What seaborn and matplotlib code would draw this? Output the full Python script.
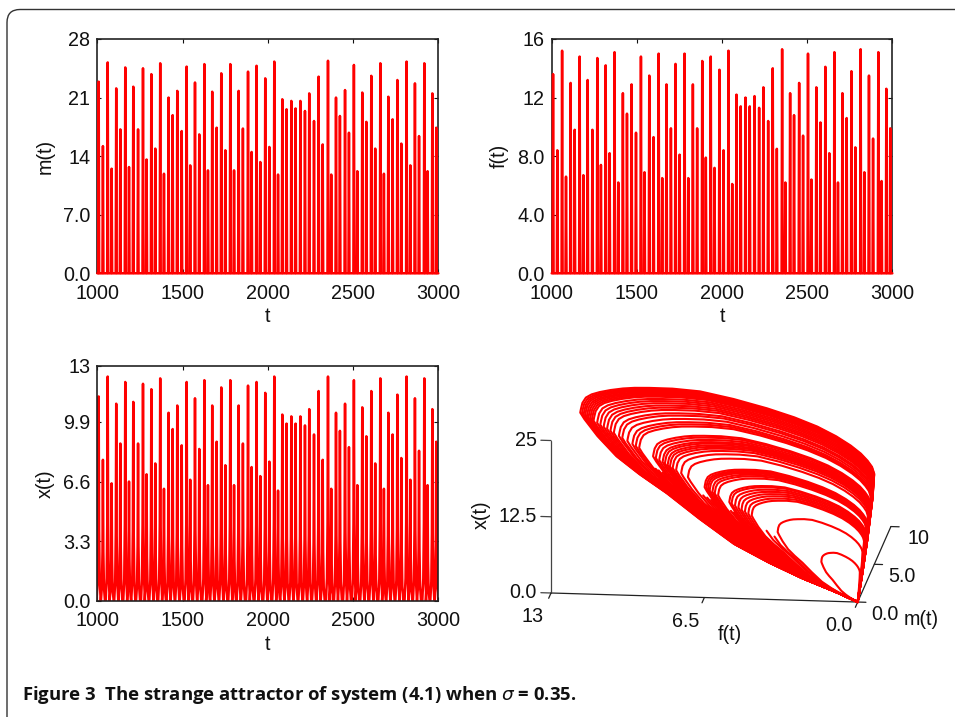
import numpy as np
import pandas as pd
import matplotlib
matplotlib.use('Agg')
import matplotlib.pyplot as plt
import seaborn as sns
from matplotlib.patches import FancyBboxPatch
from matplotlib.transforms import IdentityTransform

# peak times of the spikes, same for all three series
peak_t = [1008, 1033, 1061, 1084, 1111, 1135, 1164, 1186, 1211, 1239, 1268, 1289, 1317, 1340, 1369, 1391,
          1418, 1442, 1469, 1495, 1524, 1545, 1573, 1598, 1628, 1649, 1674, 1700, 1727, 1751, 1780, 1802,
          1829, 1854, 1884, 1905, 1934, 1956, 1985, 2009, 2038, 2060, 2085, 2110, 2138, 2163, 2191, 2218,
          2243, 2271, 2298, 2322, 2353, 2372, 2400, 2423, 2453, 2476, 2505, 2525, 2554, 2578, 2607, 2630,
          2660, 2681, 2707, 2732, 2760, 2783, 2814, 2836, 2863, 2887, 2918, 2937, 2965, 2988]
peak_m = [22.9, 15.2, 25.2, 12.5, 22.1, 17.2, 24.6, 12.7, 22.3, 17.2, 24.5, 13.6, 23.8, 14.9, 25.1, 11.9,
          21.0, 18.9, 21.8, 17.0, 24.7, 12.9, 22.8, 16.6, 25.0, 12.3, 21.7, 17.4, 23.9, 14.7, 25.0, 12.3,
          21.8, 17.3, 24.1, 14.5, 24.8, 13.3, 23.3, 15.1, 25.3, 11.8, 20.8, 19.6, 20.6, 19.7, 20.6, 19.4,
          21.5, 18.2, 23.5, 15.4, 25.4, 11.8, 21.0, 18.8, 21.9, 16.8, 24.9, 12.2, 21.6, 18.1, 23.6, 14.9,
          25.1, 11.9, 21.1, 18.4, 23.1, 15.5, 25.3, 12.9, 22.7, 16.4, 25.1, 12.2, 21.5, 17.4]
peak_f = [13.6, 8.4, 15.2, 6.6, 13.0, 9.8, 14.8, 6.7, 13.2, 9.8, 14.7, 7.4, 14.2, 8.2, 15.1, 6.2,
          12.3, 10.9, 12.9, 9.6, 14.8, 6.9, 13.5, 9.3, 15.0, 6.5, 12.9, 9.9, 14.3, 8.1, 15.0, 6.5,
          12.9, 9.9, 14.5, 7.9, 14.8, 7.2, 13.9, 8.4, 15.2, 6.1, 12.2, 11.4, 12.0, 11.4, 12.1, 11.3,
          12.7, 10.4, 14.0, 8.5, 15.3, 6.2, 12.3, 10.8, 13.0, 9.4, 15.0, 6.4, 12.7, 10.3, 14.1, 8.2,
          15.1, 6.2, 12.3, 10.6, 13.8, 8.6, 15.3, 6.9, 13.5, 9.2, 15.1, 6.3, 12.6, 9.9]
peak_x = [11.3, 7.8, 12.4, 6.5, 10.9, 8.7, 12.1, 6.6, 11.0, 8.7, 12.0, 7.0, 11.7, 7.6, 12.3, 6.2,
          10.4, 9.5, 10.8, 8.6, 12.1, 6.7, 11.2, 8.4, 12.2, 6.4, 10.8, 8.8, 11.8, 7.5, 12.2, 6.4,
          10.8, 8.7, 11.9, 7.4, 12.1, 6.9, 11.5, 7.7, 12.4, 6.1, 10.3, 9.8, 10.2, 9.8, 10.2, 9.7,
          10.6, 9.2, 11.6, 7.8, 12.4, 6.2, 10.4, 9.4, 10.9, 8.5, 12.2, 6.4, 10.7, 9.1, 11.6, 7.6,
          12.3, 6.2, 10.4, 9.2, 11.4, 7.9, 12.4, 6.7, 11.2, 8.3, 12.3, 6.4, 10.6, 8.8]

t_ticks = [1000, 1500, 2000, 2500, 3000]
m_ticks = [0, 7, 14, 21, 28]
m_labels = ['0.0', '7.0', '14', '21', '28']
f_ticks = [0, 4, 8, 12, 16]
f_labels = ['0.0', '4.0', '8.0', '12', '16']
x_ticks = [0, 3.3, 6.6, 9.9, 13]
x_labels = ['0.0', '3.3', '6.6', '9.9', '13']

# shape of one spike: offset in t, share of the peak height
thin_offset = [-3, 0, 3]
thin_share = [0, 1, 0]
wide_offset = [-12, -6, -2.5, 0, 2.5, 6, 12]
wide_share = [0, 0.1, 0.35, 1, 0.35, 0.1, 0]

# biggest loop of the attractor
lobe_f = [0, 0, 0, 0, 0.03, 0.154, 0.37, 0.68, 1.14, 1.8, 2.64, 3.66, 4.86, 6.32, 7.78, 8.99, 9.99, 10.65, 11.16,
          11.71, 12.2, 12.58, 12.86, 13.05, 13.14, 13.16, 12.95, 12.33, 11.43, 10.33, 9.02, 7.46, 5.82, 4.23, 2.7, 1.16, 0]
lobe_m = [0, 1.5, 3, 4.5, 5.2, 5.4, 5.6, 5.78, 6, 6.29, 6.6, 6.9, 7.2, 7.5, 7.8, 8.06, 8.3, 8.44, 8.6,
          8.78, 9, 9.24, 9.5, 9.8, 10, 9.93, 9.7, 9.2, 8.5, 7.55, 6.5, 5.25, 4, 3, 2, 1, 0]
lobe_x = [0, 3.2, 6.86, 11.6, 14.6, 15.47, 16.2, 17.11, 18.1, 19.19, 20.3, 21.33, 22.3, 23.29, 24, 23.99, 23.7, 23.46, 23.1,
          22.56, 21.9, 21.18, 20.3, 19.03, 17.8, 17.27, 16.5, 14.43, 12.1, 10.48, 8.8, 6.33, 3.94, 2.36, 1.23, 0.45, 0]
lower_start = 27

# tip of every loop (f and height)
tip_f = [1.72, 3.79, 5.02, 5.18, 5.34, 5.50, 5.65, 5.81, 5.97, 6.08,
         6.61, 6.77, 6.88, 7.01, 7.09, 7.17, 7.25,
         8.04, 8.36, 8.60, 8.76, 8.89, 9.00, 9.13, 9.24, 9.40, 9.56, 9.69,
         10.35, 10.51, 10.67, 10.91, 11.15, 11.31,
         11.55, 11.71, 11.87, 12.03, 12.19, 12.34, 12.51,
         12.59, 12.67, 12.75, 12.83, 12.91, 12.98, 13.06, 13.14]
tip_h = [4.93, 7.73, 9.20, 9.36, 9.54, 9.70, 9.88, 10.04, 10.22, 10.32,
         10.89, 11.05, 11.18, 11.30, 11.39, 11.46, 11.57,
         12.41, 12.74, 12.99, 13.17, 13.30, 13.42, 13.56, 13.67, 13.83, 14.01, 14.15,
         14.86, 15.02, 15.18, 15.43, 15.68, 15.86,
         16.11, 16.29, 16.45, 16.63, 16.79, 16.95, 17.12,
         17.21, 17.30, 17.39, 17.46, 17.55, 17.64, 17.71, 17.80]
# loops where only the lower run shows, the rest is lost in the band
lower_f = [4.2, 4.6, 6.25, 6.4, 7.4, 7.6, 7.8, 9.85, 10.05, 10.2]
lower_h = [8.2, 8.9, 10.6, 10.75, 11.75, 12.0, 12.2, 14.35, 14.55, 14.7]

sns.set_theme(style='ticks')
plt.rcParams['font.family'] = ['Liberation Sans', 'DejaVu Sans']
plt.rcParams['mathtext.fontset'] = 'dejavusans'

W, H = 955, 717
fig = plt.figure(figsize=(W / 100, H / 100), dpi=100)


def px_axes(left, top, right, bottom):
    return fig.add_axes([left / W, 1 - bottom / H, (right - left) / W, (bottom - top) / H])


def spikes(peaks, offset, share):
    t, y = [1000], [0]
    for pt, pv in zip(peak_t, peaks):
        t.extend(pt + o for o in offset)
        y.extend(pv * s for s in share)
    t.append(3000)
    y.append(0)
    return pd.DataFrame({'t': t, 'y': y})


def time_panel(box, peaks, offset, share, ylim, ticks, labels, name, over):
    ax = px_axes(*box)
    sns.lineplot(data=spikes(peaks, offset, share), x='t', y='y', estimator=None, sort=False,
                 color='#ff0000', linewidth=1.8, ax=ax, clip_on=not over, zorder=5 if over else 2)
    ax.set_xlim(1000, 3000)
    ax.set_ylim(0, ylim)
    ax.set_xticks(t_ticks)
    ax.set_yticks(ticks)
    ax.set_yticklabels(labels)
    ax.tick_params(direction='in', length=3, width=0.8, top=True, right=True, labelsize=14.2,
                   pad=5, colors='#111111')
    ax.tick_params(axis='x', pad=7.5)
    ax.set_xlabel('t', fontsize=14.2, labelpad=3, color='#111111')
    ax.set_ylabel(name, fontsize=14.2, labelpad=6, color='#111111')
    for s in ax.spines.values():
        s.set_linewidth(1.2)
        s.set_color('#222222')


time_panel((97.3, 39, 438.3, 273.3), peak_m, thin_offset, thin_share, 28, m_ticks, m_labels, 'm(t)', True)
time_panel((551.7, 39, 892.3, 273.3), peak_f, thin_offset, thin_share, 16, f_ticks, f_labels, 'f(t)', True)
time_panel((97.3, 365.7, 438.3, 601), peak_x, wide_offset, wide_share, 13, x_ticks, x_labels, 'x(t)', False)

# 3d panel
ax3 = fig.add_axes([494.5 / W, 7 / H, 441 / W, 441 / H], projection='3d', proj_type='ortho', computed_zorder=False)
ax3.set_box_aspect((307, 292, 157))
ax3.view_init(elev=15, azim=-83.5)
ax3.set_xlim(13, 0)
ax3.set_ylim(0, 10)
ax3.set_zlim(0, 25)
ax3.set_xticks([])
ax3.set_yticks([])
ax3.set_zticks([])
ax3.set_axis_off()
ax3.patch.set_alpha(0)

lobe_f = np.array(lobe_f)
lobe_m = np.array(lobe_m)
lobe_x = np.array(lobe_x)
for tf, th in zip(tip_f, tip_h):
    ax3.plot(lobe_f * tf / 13.14, lobe_m * tf / 13.14, lobe_x * th / 17.8, color='#ff0000', lw=1.5, zorder=3)
for tf, th in zip(lower_f, lower_h):
    ax3.plot(lobe_f[lower_start:] * tf / 13.14, lobe_m[lower_start:] * tf / 13.14, lobe_x[lower_start:] * th / 17.8,
             color='#ff0000', lw=1.5, zorder=3)

# axis lines and ticks
ax3.plot([13, 0], [0, 0], [0, 0], color='#222222', lw=0.9, zorder=1)
ax3.plot([13, 13], [0, 0], [0, 25], color='#444444', lw=0.9, zorder=1)
ax3.plot([0, 0], [0, 10], [0, 0], color='#222222', lw=0.9, zorder=1)
for v in [0, 12.5, 25]:
    ax3.plot([13, 13.43], [0, 0], [v, v], color='#444444', lw=0.9, zorder=1)
    ax3.text(13.6, 0, v, {0: '0.0', 12.5: '12.5', 25: '25'}[v], ha='right', va='center', fontsize=14.2, color='#111111')
for v in [0, 6.5, 13]:
    ax3.plot([v, v], [0, -0.7], [0, 0], color='#222222', lw=0.9, zorder=1)
    ax3.text(v + 0.8, 0, -4, {0: '0.0', 6.5: '6.5', 13: '13'}[v], ha='center', va='center', fontsize=14.2, color='#111111')
for v in [0, 5, 10]:
    ax3.plot([0, -0.35], [v, v], [0, 0], color='#222222', lw=0.9, zorder=1)
    ax3.text(-1.15, v, -1.9, {0: '0.0', 5: '5.0', 10: '10'}[v], ha='center', va='center', fontsize=14.2, color='#111111')
ax3.text(5.4, 0, -5.9, 'f(t)', ha='center', va='center', fontsize=14.2, color='#111111')
ax3.text(-2.7, 0, -2.5, 'm(t)', ha='center', va='center', fontsize=14.2, color='#111111')
fig.text(481 / W, 1 - 515 / H, 'x(t)', rotation=90, ha='center', va='center', fontsize=14.2, color='#111111')

# rounded frame that runs off the page
fig.add_artist(FancyBboxPatch((20, -7), 1000, 701.5, boxstyle='round,pad=13,rounding_size=13',
                              transform=IdentityTransform(), fill=False, edgecolor='#333333', linewidth=1.0))

fig.text(22 / W, 1 - 695 / H, 'Figure 3  The strange attractor of system (4.1) when $\\sigma$ = 0.35.',
         family=['Open Sans', 'DejaVu Sans'], fontweight='bold', fontsize=13.3, va='center', color='#111111')

fig.savefig('out.png', dpi=100)
